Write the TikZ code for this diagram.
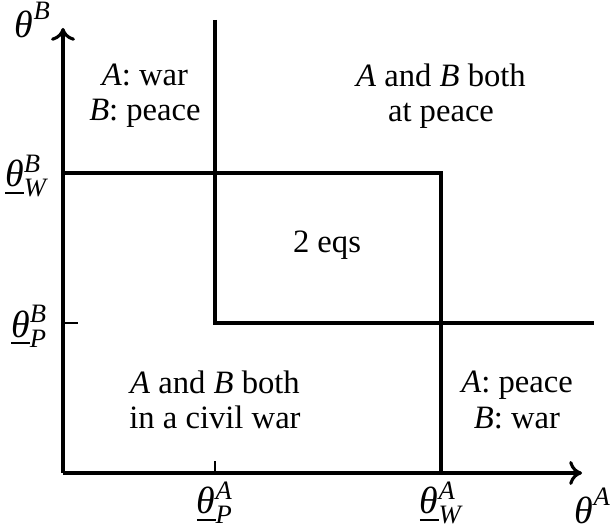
\documentclass[tikz,border=0pt]{standalone}
\usepackage{amsmath}
\usepackage{fontspec}
\setmainfont{Liberation Serif}
\usetikzlibrary{arrows.meta}
\newcommand{\thlim}[2]{$\smash[b]{\underline{\text{\itshape θ}}}^{\text{\itshape #1}}_{\text{\itshape #2}}$}
\newcommand{\thax}[1]{$\text{\itshape θ}^{\text{\itshape #1}}$}

\begin{document}
\begin{tikzpicture}[x=0.0125cm, y=0.0125cm, >={To[length=1.6mm, width=3mm]},
    every node/.style={font=\fontsize{11.6}{12.5}\selectfont, align=center},
    axis/.style={line width=1.1pt}, bound/.style={line width=1.1pt}, tickmark/.style={line width=0.4pt},
    thlabel/.style={font=\fontsize{13.5}{16}\selectfont, inner sep=0pt}]
  \useasboundingbox (-63,-55) rectangle (547,473);
  \coordinate (O) at (0,0);
  \coordinate (xend) at (519,0);
  \coordinate (yend) at (0,445);
  \coordinate (pA) at (152,0);
  \coordinate (wA) at (378,0);
  \coordinate (pB) at (0,150);
  \coordinate (wB) at (0,300);
  % axes
  \draw[axis, ->] (O) -- (xend);
  \draw[axis, ->] (O) -- (yend);
  \draw[tickmark] (pA) -- ++(0,12);
  \draw[tickmark] (pB) -- ++(15,0);
  % region boundaries
  \draw[bound] (152,453) -- (152,150) -- (531,150);
  \draw[bound] (wB) -- (378,300) -- (wA);
  % axis labels
  \node[thlabel] (thB) at (-30,453) {\thax{B}};
  \node[thlabel] (thA) at (530,-33) {\thax{A}};
  \node[thlabel, anchor=east] (thWB) at (-15,297) {\thlim{B}{W}};
  \node[thlabel, anchor=east] (thPB) at (-15,147) {\thlim{B}{P}};
  \node[thlabel, anchor=north] (thPA) at (pA) [yshift=-0.1cm] {\thlim{A}{P}};
  \node[thlabel, anchor=north] (thWA) at (wA) [yshift=-0.1cm] {\thlim{A}{W}};
  % regions
  \node (warpeace) at (82,377) {\textit{A}:\ war\\\textit{B}:\ peace};
  \node (bothpeace) at (378,377) {\textit{A} and \textit{B} both\\at peace};
  \node (twoeq) at (264,228) {2 eqs};
  \node (bothwar) at (152,73) {\textit{A} and \textit{B} both\\in a civil war};
  \node (peacewar) at (454,73) {\textit{A}:\ peace\\\textit{B}:\ war};
\end{tikzpicture}
\end{document}
